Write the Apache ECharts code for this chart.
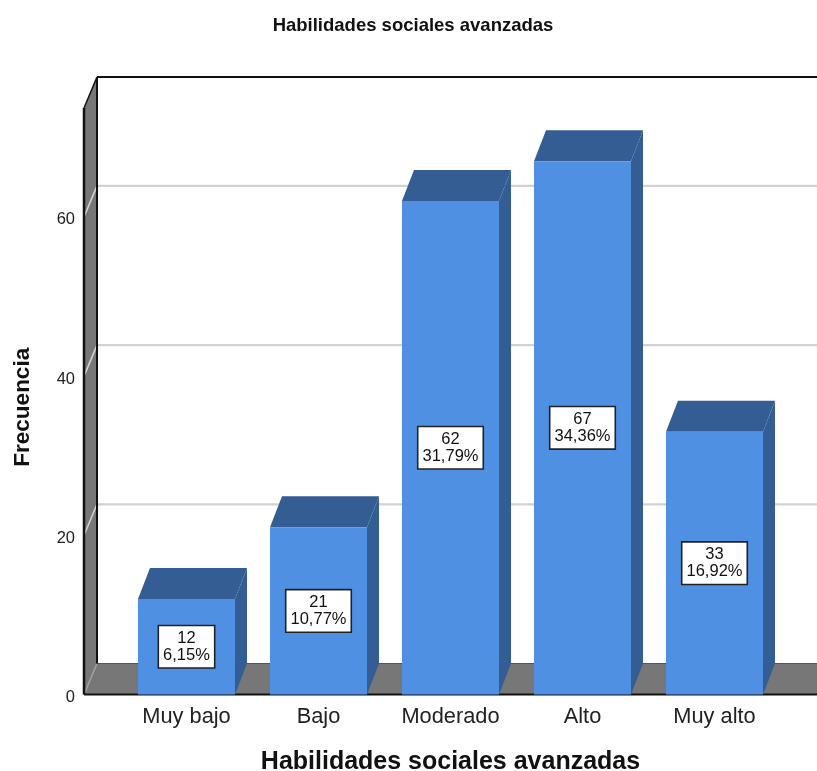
<!DOCTYPE html>
<html>
<head>
<meta charset="utf-8">
<style>html,body{margin:0;padding:0;background:#fff}#chart{width:817px;height:771px}</style>
<script src="https://cdn.jsdelivr.net/npm/echarts@6/dist/echarts.min.js"></script>
</head>
<body>
<div id="chart"></div>
<script>
const categories = ['Muy bajo', 'Bajo', 'Moderado', 'Alto', 'Muy alto'];
const frequencies = [12, 21, 62, 67, 33];
const percents = ['6,15%', '10,77%', '31,79%', '34,36%', '16,92%'];
const wallTicks = [0, 20, 40, 60];

const FONT = '"Liberation Sans", Arial, sans-serif';
const DEPTH_X = 13, DEPTH_Y = 31, BAR_DEPTH_X = 12, WALL_GAP = 36.5;
const BAR_RATIO = 0.735;
const FRONT = '#5090E3', SHADE = '#335D93', WALL = '#777777', GRID = '#D2D2D2';

const chart = echarts.init(document.getElementById('chart'), null, { renderer: 'canvas' });

const poly = (points, fill) => ({ type: 'polygon', shape: { points }, style: { fill }, silent: true });
const seg = (x1, y1, x2, y2, stroke, lineWidth) => ({
  type: 'line', shape: { x1, y1, x2, y2 }, style: { stroke, lineWidth, fill: null }, silent: true
});

// Side wall, floor and back-wall rules of the 3D box
function renderFrame(params, api) {
  const cs = params.coordSys;
  const left = cs.x - WALL_GAP, right = api.getWidth();
  const top = cs.y, bottom = cs.y + cs.height;
  const children = [
    poly([[left, top], [left + DEPTH_X, top - DEPTH_Y], [left + DEPTH_X, bottom - DEPTH_Y], [left, bottom]], WALL),
    poly([[left, bottom], [left + DEPTH_X, bottom - DEPTH_Y], [right, bottom - DEPTH_Y], [right, bottom]], WALL)
  ];
  wallTicks.forEach(v => {
    const y = api.coord([0, v])[1];
    children.push(seg(left, y, left + DEPTH_X, y - DEPTH_Y, v === 0 ? '#A0A0A0' : GRID, 1.6));
    if (v > 0) children.push(seg(left + DEPTH_X, y - DEPTH_Y, right, y - DEPTH_Y, GRID, 2.2));
  });
  children.push(
    seg(left + DEPTH_X, bottom - DEPTH_Y, right, bottom - DEPTH_Y, '#555555', 1),
    seg(left, top, left, bottom, '#111111', 2.5),
    seg(left + DEPTH_X, top - DEPTH_Y, left + DEPTH_X, bottom - DEPTH_Y, '#111111', 2),
    seg(left, top, left + DEPTH_X, top - DEPTH_Y, '#111111', 1.5),
    seg(left + DEPTH_X, top - DEPTH_Y, right, top - DEPTH_Y, '#111111', 2),
    seg(left, bottom, right, bottom, '#111111', 2)
  );
  return { type: 'group', children };
}

// One extruded bar: top and side faces behind the front face, then its value box
function renderBar(params, api) {
  const i = api.value(0), v = api.value(1);
  const [cx, t] = api.coord([i, v]);
  const b = api.coord([i, 0])[1];
  const w = api.size([1, 0])[0] * BAR_RATIO;
  const l = cx - w / 2, r = cx + w / 2;
  return {
    type: 'group',
    children: [
      poly([[l, t], [l + BAR_DEPTH_X, t - DEPTH_Y], [r + BAR_DEPTH_X, t - DEPTH_Y], [r, t]], SHADE),
      poly([[r, t], [r + BAR_DEPTH_X, t - DEPTH_Y], [r + BAR_DEPTH_X, b - DEPTH_Y], [r, b]], SHADE),
      { type: 'rect', shape: { x: l, y: t, width: w, height: b - t }, style: { fill: FRONT }, silent: true },
      {
        type: 'text', x: cx, y: (t + b) / 2, silent: true,
        style: {
          text: frequencies[i] + '\n' + percents[i],
          font: '16.5px ' + FONT, fill: '#111111',
          align: 'center', verticalAlign: 'middle', lineHeight: 16.5,
          backgroundColor: '#FFFFFF', borderColor: '#222222', borderWidth: 1.6,
          padding: [4, 4, 4, 4]
        }
      }
    ]
  };
}

chart.setOption({
  animation: false,
  backgroundColor: '#FFFFFF',
  title: {
    text: 'Habilidades sociales avanzadas',
    left: 408, top: 11, textAlign: 'center',
    textStyle: { fontFamily: FONT, fontSize: 18.5, fontWeight: 'bold', color: '#111111' }
  },
  grid: { left: 120.5, right: 36.5, top: 108, bottom: 76.5, outerBoundsMode: 'none' },
  xAxis: {
    type: 'category', data: categories,
    axisLine: { show: false }, axisTick: { show: false },
    axisLabel: { fontFamily: FONT, fontSize: 21.8, color: '#222222', margin: 11 },
    name: 'Habilidades sociales avanzadas', nameLocation: 'middle', nameGap: 55,
    nameTextStyle: { fontFamily: FONT, fontSize: 25, fontWeight: 'bold', color: '#111111' }
  },
  yAxis: {
    type: 'value', min: 0, max: 73.68, interval: 20, offset: WALL_GAP,
    axisLine: { show: false }, axisTick: { show: false }, splitLine: { show: false },
    axisLabel: {
      margin: 9, showMaxLabel: false, formatter: '{t|{value}}',
      rich: { t: { fontFamily: FONT, fontSize: 16.5, color: '#222222', padding: [6, 0, 0, 0] } }
    },
    name: 'Frecuencia', nameLocation: 'middle', nameGap: 50, nameRotate: 90,
    nameTextStyle: { fontFamily: FONT, fontSize: 22.5, fontWeight: 'bold', color: '#111111', padding: [0, 12, 0, 0] }
  },
  series: [
    { type: 'custom', z: 1, clip: false, silent: true, renderItem: renderFrame, data: [[0, 0]], encode: { x: 0, y: 1 } },
    {
      type: 'custom', z: 2, clip: false, silent: true, renderItem: renderBar,
      data: frequencies.map((v, i) => [i, v]), encode: { x: 0, y: 1 }
    }
  ]
});
</script>
</body>
</html>
